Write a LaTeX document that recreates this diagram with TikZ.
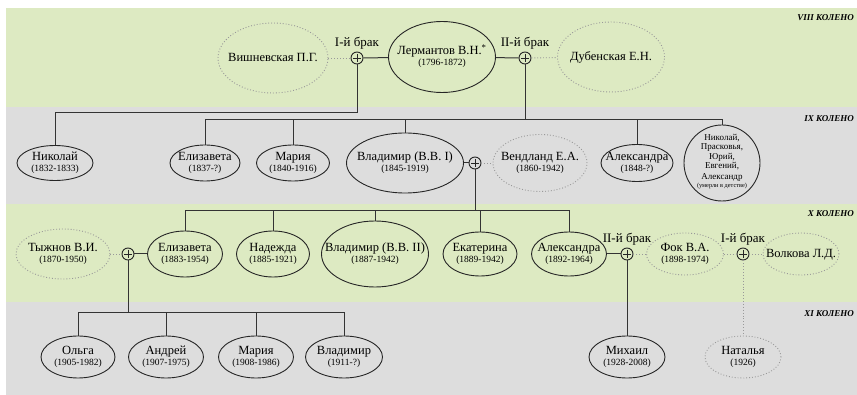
\documentclass[tikz,border=0pt]{standalone}
\usepackage{fontspec}
\setmainfont{Liberation Serif}
\usepackage{tikz}
\usepackage{xcolor}
\usetikzlibrary{shapes.geometric,positioning}
\definecolor{zel}{RGB}{221,234,194}
\definecolor{ser}{RGB}{221,221,221}
\newcommand{\gody}[1]{\\[-3pt]{\fontsize{9.5}{11}\selectfont(#1)}}
\newcommand{\tx}[2][-3pt]{\makebox[0pt]{\raisebox{#1}[0pt][0pt]{\begin{tabular}{@{}c@{}}#2\end{tabular}}}}

\begin{document}
\begin{tikzpicture}[x=1pt,y=-1pt]%
  \tikzstyle{pers}=[ellipse,draw=black!85,line width=0.9pt,inner sep=0pt,
    font=\fontsize{12.5}{14}\selectfont,minimum width=75pt,minimum height=42pt]
  \tikzstyle{spou}=[pers,draw=black!40,dotted]
  \tikzstyle{brk}=[circle,draw=black!85,line width=0.9pt,minimum size=12pt,inner sep=0pt,
    path picture={\draw[line width=0.8pt]
      ([yshift=-2pt]path picture bounding box.north) -- ([yshift=2pt]path picture bounding box.south)
      ([xshift=2pt]path picture bounding box.west) -- ([xshift=-2pt]path picture bounding box.east);}]
  \tikzstyle{sol}=[draw=black!80,line width=1pt]
  \tikzstyle{dotl}=[draw=black!40,dotted,line width=0.9pt]
  \tikzstyle{brak}=[inner sep=1pt,font=\fontsize{13}{15}\selectfont]
  \tikzstyle{kol}=[anchor=east,inner sep=0pt,font=\fontsize{9}{10}\selectfont\bfseries\itshape]
  \path[use as bounding box] (0,0) rectangle (857,395);
  % bands
  \fill[zel] (6,8) rectangle (857,107);
  \fill[ser] (6,107) rectangle (857,204);
  \fill[zel] (6,204) rectangle (857,302);
  \fill[ser] (6,302) rectangle (857,395);
  \node (k8) [kol] at (854,18) {VIII КОЛЕНО};
  \node (k9) [kol] at (854,119) {IX КОЛЕНО};
  \node (k10) [kol] at (854,214) {X КОЛЕНО};
  \node (k11) [kol] at (854,314) {XI КОЛЕНО};
  % VIII
  \node (wish) [spou,minimum width=110pt,minimum height=70pt] at (273,58) {\tx[-4pt]{Вишневская П.Г.}};
  \node (plA) [brk] at (357,58) {};
  \node (lerm) [pers,minimum width=107pt,minimum height=71pt] at (442,57)
    {\tx{Лермантов В.Н.\textsuperscript{*}\gody{1796-1872}}};
  \node (plB) [brk] at (525,58) {};
  \node (dub) [spou,minimum width=107pt,minimum height=70pt] at (611,57) {\tx[-4pt]{Дубенская Е.Н.}};
  \node (brA) [brak,above=1pt of plA] {I-й брак};
  \node (brB) [brak,above=1pt of plB] {II-й брак};
  \draw[dotl] (wish) -- (plA);
  \draw[sol] (plA) -- (lerm) -- (plB);
  \draw[dotl] (plB) -- (dub);
  % IX
  \node (nik) [pers,minimum width=76pt,minimum height=35pt] at (55,163) {\tx{Николай\gody{1832-1833}}};
  \node (eliz) [pers,minimum width=70pt,minimum height=36pt] at (205,163) {\tx{Елизавета\gody{1837-?}}};
  \node (mar) [pers,minimum width=73pt,minimum height=36pt] at (293,163) {\tx{Мария\gody{1840-1916}}};
  \node (vlad) [pers,minimum width=117pt,minimum height=60pt] at (405,163)
    {\tx{Владимир (В.В. I)\gody{1845-1919}}};
  \node (plC) [brk] at (475,163) {};
  \node (vend) [spou,minimum width=94pt,minimum height=57pt] at (540,163) {\tx{Вендланд Е.А.\gody{1860-1942}}};
  \node (alex) [pers,minimum width=72pt,minimum height=37pt] at (637,163) {\tx{Александра\gody{1848-?}}};
  \node (grp) [pers,circle,minimum size=76pt,font=\fontsize{9}{9.6}\selectfont] at (722,163)
    {\tx[-1pt]{Николай,\\Прасковья,\\Юрий,\\Евгений,\\[1pt]Александр\\[-2pt]{\fontsize{6.3}{7}\selectfont(умерли в детстве)}}};
  \coordinate (busA) at (357,113);
  \coordinate (busB) at (525,120);
  \draw[sol] (plA) -- (busA);
  \draw[sol] (nik) |- (busA);
  \draw[sol] (plB) -- (busB);
  \foreach \c in {eliz,mar,vlad,alex,grp}
    \draw[sol] (\c) |- (busB);
  \draw[sol] (vlad) -- (plC);
  \draw[dotl] (plC) -- (vend);
  % X
  \node (tyzh) [spou,minimum width=94pt,minimum height=50pt] at (63,254) {\tx{Тыжнов В.И.\gody{1870-1950}}};
  \node (plD) [brk] at (128,254) {};
  \node (eliz2) [pers,minimum height=46pt] at (185,254) {\tx{Елизавета\gody{1883-1954}}};
  \node (nad) [pers,minimum width=73pt,minimum height=46pt] at (273,254) {\tx{Надежда\gody{1885-1921}}};
  \node (vlad2) [pers,minimum width=107pt,minimum height=66pt] at (375,254)
    {\tx{Владимир (В.В. II)\gody{1887-1942}}};
  \node (ekat) [pers,minimum width=74pt,minimum height=44pt] at (480,254) {\tx{Екатерина\gody{1889-1942}}};
  \node (alex2) [pers,minimum height=44pt] at (569,254) {\tx{Александра\gody{1892-1964}}};
  \node (plE) [brk] at (627,254) {};
  \node (fok) [spou,minimum width=77pt] at (685,254) {\tx{Фок В.А.\gody{1898-1974}}};
  \node (plF) [brk] at (743,254) {};
  \node (volk) [spou,minimum width=76pt] at (801,254) {\tx[-4pt]{Волкова Л.Д.}};
  \node (brE) [brak,above=1pt of plE] {II-й брак};
  \node (brF) [brak,above=1pt of plF] {I-й брак};
  \coordinate (busC) at (475,211);
  \draw[sol] (plC) -- (busC);
  \foreach \c in {eliz2,nad,vlad2,ekat,alex2}
    \draw[sol] (\c) |- (busC);
  \draw[dotl] (tyzh) -- (plD);
  \draw[sol] (plD) -- (eliz2);
  \draw[sol] (alex2) -- (plE);
  \draw[dotl] (plE) -- (fok) -- (plF) -- (volk);
  % XI
  \node (olga) [pers,minimum width=74pt] at (78,357) {\tx{Ольга\gody{1905-1982}}};
  \node (andr) [pers] at (166,357) {\tx{Андрей\gody{1907-1975}}};
  \node (mar2) [pers] at (256,357) {\tx{Мария\gody{1908-1986}}};
  \node (vlad3) [pers,minimum width=77pt] at (344,357) {\tx{Владимир\gody{1911-?}}};
  \node (mikh) [pers,minimum width=76pt] at (627,357) {\tx{Михаил\gody{1928-2008}}};
  \node (nat) [spou,minimum width=76pt] at (743,357) {\tx{Наталья\gody{1926}}};
  \coordinate (busD) at (128,313);
  \draw[sol] (plD) -- (busD);
  \foreach \c in {olga,andr,mar2,vlad3}
    \draw[sol] (\c) |- (busD);
  \draw[sol] (plE) -- (mikh);
  \draw[dotl] (plF) -- (nat);
\end{tikzpicture}
\end{document}
